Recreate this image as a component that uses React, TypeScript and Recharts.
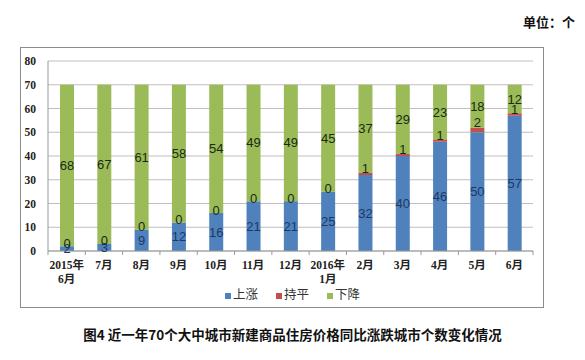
import { BarChart, Bar, XAxis, YAxis, CartesianGrid, LabelList } from 'recharts'

const months = ['2015年\n6月', '7月', '8月', '9月', '10月', '11月', '12月', '2016年\n1月', '2月', '3月', '4月', '5月', '6月']
const up = [2, 3, 9, 12, 16, 21, 21, 25, 32, 40, 46, 50, 57]
const flat = [0, 0, 0, 0, 0, 0, 0, 0, 1, 1, 1, 2, 1]
const down = [68, 67, 61, 58, 54, 49, 49, 45, 37, 29, 23, 18, 12]
const yTicks = [0, 10, 20, 30, 40, 50, 60, 70, 80]

const data = months.map((m, i) => ({ month: m, up: up[i], flat: flat[i], down: down[i] }))

const BLUE = '#4f81bd'
const RED = '#c0504d'
const GREEN = '#9bbb59'
const tickFont = '"Liberation Serif", "Noto Sans CJK SC", serif'
const labelFont = '"Liberation Sans", sans-serif'

const XTick = (props: any) => {
  const { x, y, payload, index, visibleTicksCount } = props
  const half = payload.offset ?? 18.6
  const lines = String(payload.value).split('\n')
  return (
    <g>
      <line x1={x - half} x2={x - half} y1={y} y2={y + 4} stroke="#999" />
      {index === visibleTicksCount - 1 && (
        <line x1={x + half} x2={x + half} y1={y} y2={y + 4} stroke="#999" />
      )}
      {lines.map((l, i) => (
        <text
          key={i}
          x={x}
          y={y + 18 + i * 13.5}
          textAnchor="middle"
          fontSize={11.5}
          fontWeight="bold"
          fontFamily={tickFont}
          fill="#222"
        >
          {l}
        </text>
      ))}
    </g>
  )
}

// draws the 下降 value in its segment and the 持平 value (even when 0) just below it
const DownLabel = (props: any) => {
  const { x, y, width, height, index } = props
  const cx = x + width / 2
  const perUnit = height / down[index]
  const bottom = y + height
  const flatCenter = bottom - (flat[index] * perUnit) / 2
  return (
    <g>
      <text x={cx} y={y + height / 2} textAnchor="middle" dominantBaseline="central" fontSize={13} fontFamily={labelFont} fill="#1a2a10">
        {down[index]}
      </text>
      <text x={cx} y={flatCenter - 3} textAnchor="middle" dominantBaseline="central" fontSize={13} fontFamily={labelFont} fill="#1a2a10">
        {flat[index]}
      </text>
    </g>
  )
}

const legendItems = [
  { name: '上涨', color: BLUE },
  { name: '持平', color: RED },
  { name: '下降', color: GREEN }
]

export default function App() {
  return (
    <div style={{ position: 'absolute', left: 0, top: 0, width: 585, height: 360, background: '#fff' }}>
      <div
        style={{
          position: 'absolute',
          left: 20,
          top: 47,
          width: 522,
          height: 259,
          border: '1px solid #8c8c8c'
        }}
      />
      <div
        style={{
          position: 'absolute',
          right: 10,
          top: 12,
          fontSize: 13,
          fontWeight: 'bold',
          color: '#111',
          fontFamily: '"Noto Sans CJK SC", sans-serif'
        }}
      >
        单位：个
      </div>
      <BarChart
        width={585}
        height={360}
        data={data}
        margin={{ top: 61, right: 52, left: 0, bottom: 79 }}
        style={{ position: 'absolute', left: 0, top: 0 }}
      >
        <CartesianGrid vertical={false} stroke="#bfbfbf" />
        <YAxis
          width={48}
          domain={[0, 80]}
          ticks={yTicks}
          interval={0}
          axisLine={{ stroke: '#999' }}
          tickLine={false}
          tickMargin={6}
          tick={{ fontSize: 11.5, fontWeight: 'bold', fill: '#222', fontFamily: tickFont }}
        />
        <XAxis
          dataKey="month"
          interval={0}
          tickSize={0}
          tickMargin={0}
          axisLine={{ stroke: '#999' }}
          tickLine={false}
          tick={<XTick />}
          height={30}
        />
        <Bar dataKey="up" name="上涨" stackId="a" fill={BLUE} barSize={14} isAnimationActive={false}>
          <LabelList dataKey="up" position="center" fill="#1f3864" fontSize={13} fontFamily={labelFont} />
        </Bar>
        <Bar dataKey="flat" name="持平" stackId="a" fill={RED} barSize={14} isAnimationActive={false} />
        <Bar dataKey="down" name="下降" stackId="a" fill={GREEN} barSize={14} isAnimationActive={false}>
          <LabelList dataKey="down" content={<DownLabel />} />
        </Bar>
      </BarChart>
      <div
        style={{
          position: 'absolute',
          left: 0,
          width: 585,
          top: 284,
          display: 'flex',
          justifyContent: 'center',
          gap: 18
        }}
      >
        {legendItems.map((it) => (
          <div key={it.name} style={{ display: 'flex', alignItems: 'center', gap: 2 }}>
            <div style={{ width: 6, height: 6, background: it.color, marginTop: 4 }} />
            <span style={{ fontSize: 12.5, color: '#333', fontFamily: '"Noto Sans CJK SC", sans-serif' }}>
              {it.name}
            </span>
          </div>
        ))}
      </div>
      <div
        style={{
          position: 'absolute',
          left: 0,
          width: 585,
          top: 324,
          textAlign: 'center',
          fontSize: 13.5,
          fontWeight: 'bold',
          color: '#111',
          fontFamily: '"Noto Sans CJK SC", sans-serif'
        }}
      >
        图4 近一年70个大中城市新建商品住房价格同比涨跌城市个数变化情况
      </div>
    </div>
  )
}
